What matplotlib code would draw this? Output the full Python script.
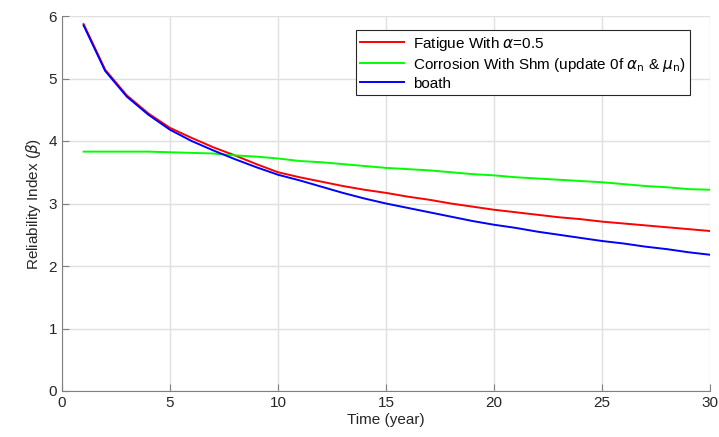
from matplotlib import pyplot as plt

years = list(range(1, 31))
fatigue = [5.87, 5.14, 4.73, 4.44, 4.21, 4.05, 3.90, 3.77, 3.63, 3.50,
           3.42, 3.35, 3.28, 3.22, 3.17, 3.11, 3.06, 3.00, 2.95, 2.90,
           2.86, 2.82, 2.78, 2.75, 2.71, 2.68, 2.65, 2.62, 2.59, 2.56]
corrosion = [3.83, 3.83, 3.83, 3.83, 3.82, 3.81, 3.80, 3.77, 3.75, 3.72,
             3.68, 3.66, 3.63, 3.60, 3.57, 3.55, 3.53, 3.50, 3.47, 3.45,
             3.42, 3.40, 3.38, 3.36, 3.34, 3.31, 3.28, 3.26, 3.23, 3.22]
both = [5.85, 5.12, 4.71, 4.42, 4.18, 4.00, 3.85, 3.71, 3.58, 3.46,
        3.37, 3.27, 3.17, 3.08, 3.00, 2.93, 2.86, 2.79, 2.72, 2.66,
        2.61, 2.55, 2.50, 2.45, 2.40, 2.36, 2.31, 2.27, 2.22, 2.18]

plt.rcParams['font.family'] = ['Liberation Sans', 'DejaVu Sans']
plt.rcParams['font.size'] = 11
plt.rcParams['mathtext.fontset'] = 'dejavusans'

fig = plt.figure(figsize=(7.19, 4.37), dpi=100)
ax = fig.add_axes([62 / 719, 1 - 391 / 437, (710 - 62) / 719, (391 - 16) / 437])

ax.plot(years, fatigue, color='#ff0000', lw=1.4, label=r'Fatigue With $\alpha$=0.5')
ax.plot(years, corrosion, color='#00ff00', lw=1.4,
        label=r'Corrosion With Shm (update 0f $\alpha_{\rm n}$ & $\mu_{\rm n}$)')
ax.plot(years, both, color='#0000ff', lw=1.4, label='boath')

ax.set_xlim(0, 30)
ax.set_ylim(0, 6)
ax.set_xticks(range(0, 31, 5))
ax.set_yticks(range(0, 7))
ax.grid(True, color='#e0e0e0', lw=1)
ax.set_axisbelow(True)
for side in ['top', 'right']:
    ax.spines[side].set_visible(False)
for side in ['left', 'bottom']:
    ax.spines[side].set_color('#808080')
ax.tick_params(direction='in', length=5, color='#808080', labelcolor='#262626')
ax.set_xlabel('Time (year)', color='#262626', labelpad=2)
ax.set_ylabel(r'Reliability Index ($\beta$)', color='#262626')

leg = ax.legend(loc='upper right', bbox_to_anchor=(628 / 648, 1 - 14 / 375),
                borderaxespad=0, fancybox=False, framealpha=1,
                edgecolor='#262626', handlelength=2.9, handletextpad=0.55,
                borderpad=0.3, labelspacing=0.2)
leg.get_frame().set_linewidth(0.8)

fig.savefig('out.png', dpi=100)
